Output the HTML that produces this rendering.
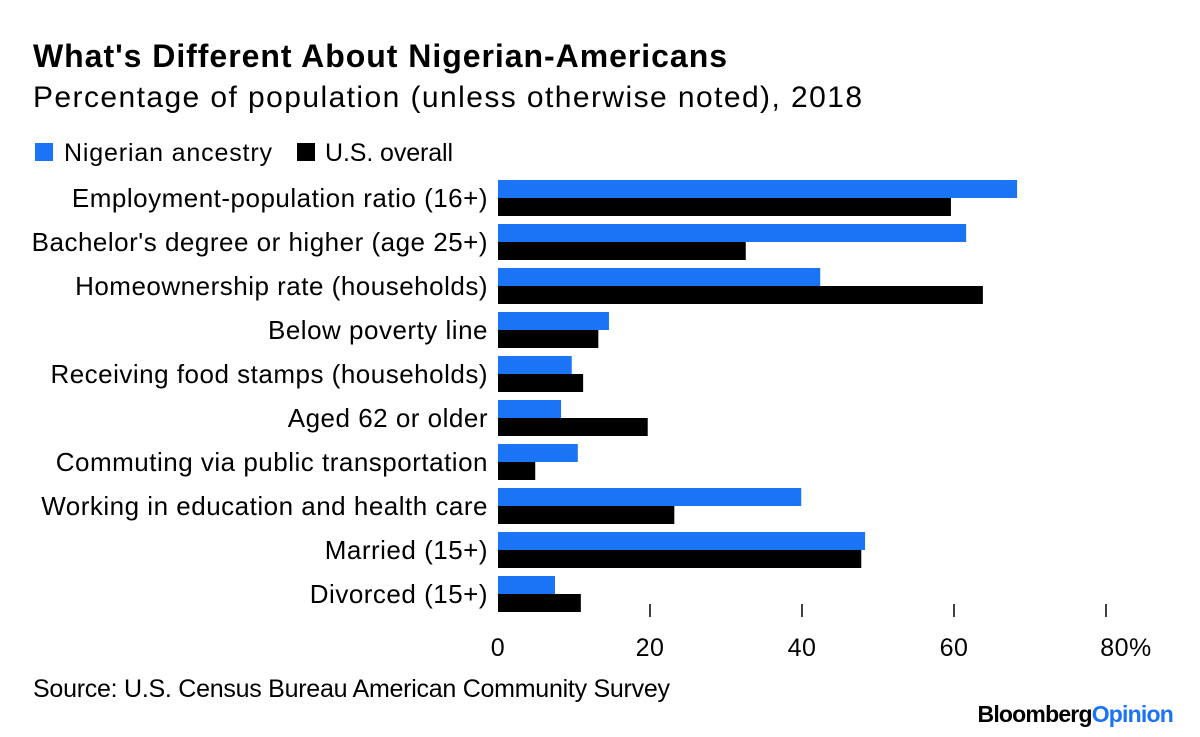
<!DOCTYPE html>
<html><head><meta charset="utf-8"><style>
body{margin:0;background:#fff;font-family:"Liberation Sans",sans-serif;}
#c{position:relative;width:1200px;height:737px;overflow:hidden;}
</style></head><body>
<div id="c">
<svg width="1200" height="737">
<text x="33" y="67" font-size="32" font-weight="bold" fill="#000" textLength="694" lengthAdjust="spacing">What's Different About Nigerian-Americans</text>
<text x="33" y="107" font-size="30" fill="#000" textLength="829" lengthAdjust="spacing">Percentage of population (unless otherwise noted), 2018</text>
<rect x="35" y="143" width="18" height="18" fill="#1a74f5"/>
<text x="64" y="161" font-size="25" textLength="208" lengthAdjust="spacing">Nigerian ancestry</text>
<rect x="297" y="143" width="18" height="18" fill="#000"/>
<text x="325" y="161" font-size="25" textLength="128" lengthAdjust="spacing">U.S. overall</text>
<g id="bars"></g>
<g id="axis"></g>
<text x="33" y="697" font-size="25" textLength="637" lengthAdjust="spacing">Source: U.S. Census Bureau American Community Survey</text>
<text x="1173" y="722" font-size="23" font-weight="bold" text-anchor="end" letter-spacing="-0.8">Bloomberg<tspan fill="#1a74f5">Opinion</tspan></text>
</svg>
</div>
<script>
const categories=["Employment-population ratio (16+)","Bachelor's degree or higher (age 25+)","Homeownership rate (households)","Below poverty line","Receiving food stamps (households)","Aged 62 or older","Commuting via public transportation","Working in education and health care","Married (15+)","Divorced (15+)"];
const nigerian=[68.3,61.6,42.4,14.6,9.7,8.3,10.5,39.9,48.3,7.5];
const usOverall=[59.6,32.6,63.8,13.2,11.2,19.7,4.9,23.2,47.8,10.9];
const ticks=[0,20,40,60,80];
const tickLabels=["0","20","40","60","80%"];
const NS="http://www.w3.org/2000/svg";
const x=v=>498+v*7.6;
const rowY=i=>180+i*44;
const g=document.getElementById('bars');
function mk(t,a,p){const e=document.createElementNS(NS,t);for(const k in a)e.setAttribute(k,a[k]);p.appendChild(e);return e;}
categories.forEach((c,i)=>{
 const y=rowY(i);
 const b=mk('rect',{x:x(0),y:y,width:x(nigerian[i])-x(0),height:18,fill:'#1a74f5'},g);
 
 
 const k=mk('rect',{x:x(0),y:y+18,width:x(usOverall[i])-x(0),height:18,fill:'#000'},g);
 
 
 const t=mk('text',{x:488,y:y+27,'font-size':26,'letter-spacing':0.5,'text-anchor':'end'},g);
 t.textContent=c;
 
 
});
const ax=document.getElementById('axis');
ticks.forEach((v,i)=>{
 if(v>0){const l=mk('line',{x1:x(v),x2:x(v),y1:604,y2:617,stroke:'#000','stroke-width':1.5},ax);
 
 }
 const t=mk('text',{x:x(v)+(i==4?20:0),y:656,'font-size':25,'letter-spacing':0.5,'text-anchor':'middle'},ax);
 t.textContent=tickLabels[i];
 
 
});
</script>
</body></html>
